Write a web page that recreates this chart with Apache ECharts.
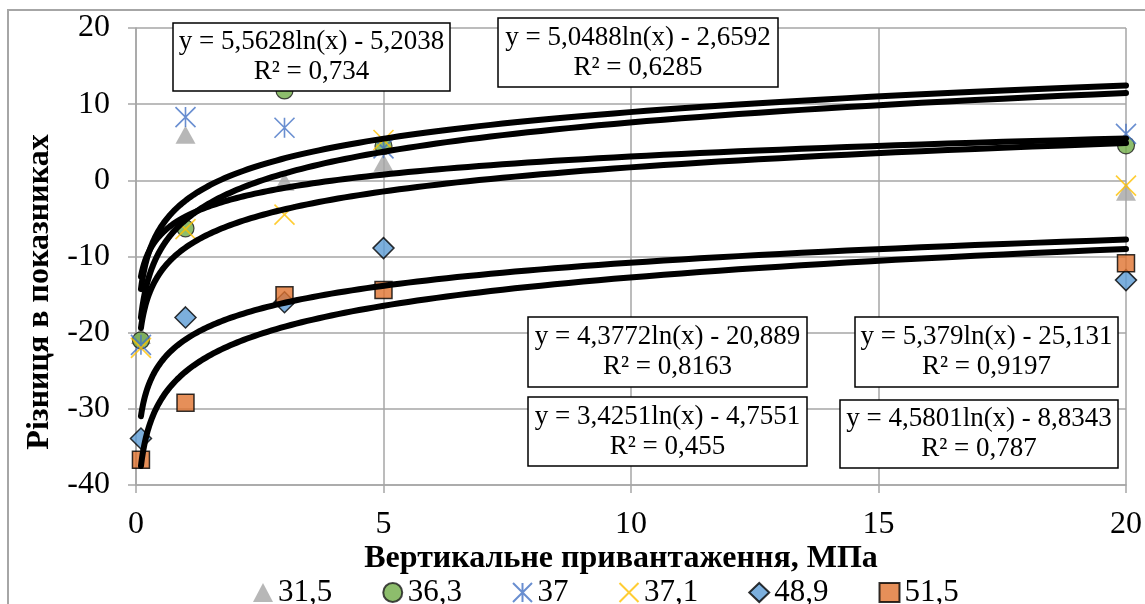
<!DOCTYPE html>
<html>
<head>
<meta charset="utf-8">
<script src="https://cdn.jsdelivr.net/npm/echarts@6/dist/echarts.min.js"></script>
<style>
  html, body { margin: 0; padding: 0; background: #fff; }
  #chart { width: 1145px; height: 604px; }
</style>
</head>
<body>
<div id="chart"></div>
<script>
// Loading (MPa) at which each specimen was measured
const xValues = [0.1, 1, 3, 5, 20];

// Specimen labels shown in the legend
const seriesNames = ['31,5', '36,3', '37', '37,1', '48,9', '51,5'];

// Measured difference in readings per specimen
const s31_5 = [-20.3, 6.0, -0.2, 2.3, -1.5];
const s36_3 = [-21.0, -6.3, 11.8, 4.5, 4.6];
const s37   = [-21.6, 8.3, 6.9, 4.2, 6.1];
const s37_1 = [-22.0, -6.4, -4.5, 5.3, -0.7];
const s48_9 = [-33.9, -18.0, -16.0, -8.9, -13.1];
const s51_5 = [-36.7, -29.2, -15.1, -14.4, -10.9];

// Logarithmic trend lines y = a*ln(x) + b, one per specimen (same order)
const trendA  = [3.4251, 5.5628, 5.0488, 4.5801, 4.3772, 5.379];
const trendB  = [-4.7551, -5.2038, -2.6592, -8.8343, -20.889, -25.131];
const trendR2 = ['0,455', '0,734', '0,6285', '0,787', '0,8163', '0,9197'];

// Axis ticks
const xTicks = { min: 0, max: 20, interval: 5 };
const yTicks = { min: -40, max: 20, interval: 10 };

const FONT = '"Liberation Serif", "Times New Roman", serif';
const measured = [s31_5, s36_3, s37, s37_1, s48_9, s51_5];

const markerStyles = [
  { symbol: 'triangle', symbolSize: [20, 18], itemStyle: { color: '#A5A5A5' } },
  { symbol: 'circle', symbolSize: 17, itemStyle: { color: '#70AD47', borderColor: '#1a1a1a', borderWidth: 1.2 } },
  { symbol: 'path://M0,0L20,20M20,0L0,20M10,0L10,20', symbolSize: 20,
    itemStyle: { color: 'rgba(0,0,0,0)', borderColor: '#4472C4', borderWidth: 1.6 } },
  { symbol: 'path://M0,0L20,20M20,0L0,20', symbolSize: 20,
    itemStyle: { color: 'rgba(0,0,0,0)', borderColor: '#FFC000', borderWidth: 1.6 } },
  { symbol: 'diamond', symbolSize: 21, itemStyle: { color: '#5B9BD5', borderColor: '#000', borderWidth: 1.5 } },
  { symbol: 'rect', symbolSize: 17, itemStyle: { color: '#E07330', borderColor: '#000', borderWidth: 1.5 } }
];

function fmt(v) { return String(v).replace('.', ','); }

function trendPoints(a, b) {
  const pts = [];
  const x0 = xValues[0], x1 = xValues[xValues.length - 1];
  const n = 160;
  for (let i = 0; i <= n; i++) {
    const x = x0 * Math.pow(x1 / x0, i / n);
    pts.push([x, a * Math.log(x) + b]);
  }
  return pts;
}

const scatterSeries = seriesNames.map((name, i) => Object.assign({
  name: name,
  type: 'scatter',
  z: 2,
  data: xValues.map((x, j) => [x, measured[i][j]])
}, markerStyles[i]));

const trendSeries = trendA.map((a, i) => ({
  type: 'line',
  z: 4,
  symbol: 'none',
  silent: true,
  lineStyle: { color: '#000', width: 6, cap: 'round', join: 'round' },
  data: trendPoints(a, trendB[i])
}));

// Equation boxes: [left, top, width, height] for each trend line (same order)
const boxLayout = [
  [528, 397, 279, 69],
  [173, 23, 277, 68],
  [498, 18, 280, 69],
  [840, 400, 278, 68],
  [528, 317, 279, 70],
  [855, 317, 263, 70]
];

const graphics = [
  { type: 'rect', z: 0, shape: { x: 8, y: 10, width: 1160, height: 700 },
    style: { fill: 'none', stroke: '#A6A6A6', lineWidth: 2 } },
  { type: 'text', z: 10, x: 40, y: 292, rotation: Math.PI / 2,
    style: { text: 'Різниця в показниках', font: 'bold 32px ' + FONT, fill: '#000',
             textAlign: 'center', textVerticalAlign: 'middle' } },
  { type: 'text', z: 10, x: 621, y: 559,
    style: { text: 'Вертикальне привантаження, МПа', font: 'bold 32px ' + FONT, fill: '#000',
             textAlign: 'center', textVerticalAlign: 'middle' } }
];

boxLayout.forEach((b, i) => {
  const cx = b[0] + b[2] / 2;
  const sign = trendB[i] < 0 ? ' - ' : ' + ';
  graphics.push({ type: 'rect', z: 20, shape: { x: b[0], y: b[1], width: b[2], height: b[3] },
    style: { fill: '#fff', stroke: '#000', lineWidth: 1.5 } });
  graphics.push({ type: 'text', z: 21, x: cx, y: b[1] + b[3] / 2 - 15,
    style: { text: 'y = ' + fmt(trendA[i]) + 'ln(x)' + sign + fmt(Math.abs(trendB[i])),
             font: '27px ' + FONT, fill: '#000', textAlign: 'center', textVerticalAlign: 'middle' } });
  graphics.push({ type: 'text', z: 21, x: cx, y: b[1] + b[3] / 2 + 15,
    style: { text: 'R² = ' + trendR2[i],
             font: '27px ' + FONT, fill: '#000', textAlign: 'center', textVerticalAlign: 'middle' } });
});

const chart = echarts.init(document.getElementById('chart'), null, { renderer: 'canvas' });
chart.setOption({
  animation: false,
  backgroundColor: '#fff',
  grid: { left: 136, right: 19, top: 28, bottom: 119, containLabel: false },
  xAxis: {
    type: 'value', min: xTicks.min, max: xTicks.max, interval: xTicks.interval,
    axisLine: { show: true, onZero: false, lineStyle: { color: '#A6A6A6', width: 1.5 } },
    axisTick: { show: true, length: 8, lineStyle: { color: '#A6A6A6', width: 1.5 } },
    splitLine: { show: true, lineStyle: { color: '#A6A6A6', width: 1.5 } },
    axisLabel: { color: '#000', fontFamily: FONT, fontSize: 32, margin: 24 }
  },
  yAxis: {
    type: 'value', min: yTicks.min, max: yTicks.max, interval: yTicks.interval,
    axisLine: { show: true, onZero: false, lineStyle: { color: '#A6A6A6', width: 1.5 } },
    axisTick: { show: true, length: 8, lineStyle: { color: '#A6A6A6', width: 1.5 } },
    splitLine: { show: true, lineStyle: { color: '#A6A6A6', width: 1.5 } },
    axisLabel: { color: '#000', fontFamily: FONT, fontSize: 32, margin: 26 }
  },
  legend: {
    data: seriesNames,
    left: 248, top: 572,
    itemWidth: 20, itemHeight: 19, itemGap: 50,
    textStyle: { color: '#000', fontFamily: FONT, fontSize: 31 }
  },
  graphic: graphics,
  series: scatterSeries.concat(trendSeries)
});
</script>
</body>
</html>
